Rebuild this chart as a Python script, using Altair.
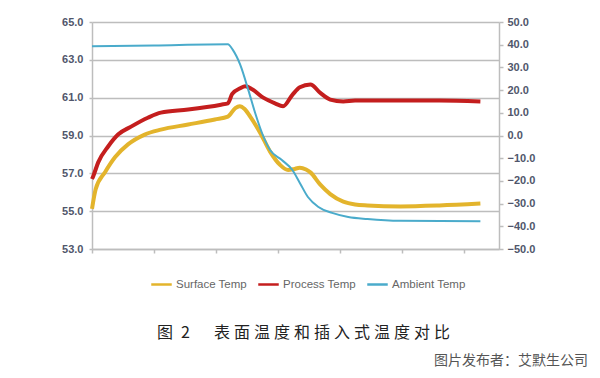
import altair as alt
import pandas as pd

# ---- data (time in arbitrary minutes) ----
series_names = ["Surface Temp", "Process Temp", "Ambient Temp"]
series_colors = ["#E3B42C", "#C41E1E", "#4AABCB"]

surface_t = [0, 6, 21, 37, 58, 85, 111, 155, 198, 219, 231, 238, 246, 255, 271, 287, 303, 316,
             325, 335, 345, 352, 368, 384, 405, 424, 444, 497, 560, 626]
surface_v = [55.12, 56.17, 57.06, 57.85, 58.53, 59.05, 59.31, 59.58, 59.85, 60.0, 60.45, 60.55,
             60.4, 60.0, 59.15, 58.15, 57.45, 57.18, 57.22, 57.3, 57.2, 57.05, 56.4, 55.9, 55.5,
             55.35, 55.3, 55.25, 55.3, 55.4]

process_t = [0, 2, 10, 26, 42, 63, 90, 111, 155, 208, 219, 226, 239, 247, 258, 276, 295, 308,
             323, 335, 352, 368, 384, 405, 424, 444, 497, 560, 626]
process_v = [56.7, 56.85, 57.58, 58.42, 59.05, 59.47, 59.94, 60.21, 60.37, 60.63, 60.7, 61.2,
             61.5, 61.6, 61.45, 61.0, 60.7, 60.55, 61.15, 61.55, 61.7, 61.25, 60.9, 60.8, 60.85,
             60.85, 60.85, 60.85, 60.8]

ambient_t = [0, 100, 219, 227, 239, 252, 263, 274, 287, 306, 323, 335, 348, 365, 387, 413,
             444, 497, 626]
ambient_v = [39.3, 39.7, 40.2, 37.7, 31.1, 20.0, 9.9, 1.1, -6.4, -10.8, -15.2, -20.9, -27.1,
             -31.5, -34.1, -35.9, -36.8, -37.6, -37.8]

left_ticks = [53, 55, 57, 59, 61, 63, 65]
right_ticks = [-50, -40, -30, -20, -10, 0, 10, 20, 30, 40, 50]
x_ticks = [0, 100, 200, 300, 400, 500, 600]

caption_label = "图"
caption_num = "2"
caption_body = "表面温度和插入式温度对比"
credit = "图片发布者：艾默生公司"

rows = []
for name, ts, vs in [("Surface Temp", surface_t, surface_v),
                     ("Process Temp", process_t, process_v),
                     ("Ambient Temp", ambient_t, ambient_v)]:
    for t, v in zip(ts, vs):
        rows.append({"t": t, "v": v, "series": name})
df = pd.DataFrame(rows)

GRID = "#bdbdbd"
LABEL = "#50566b"

x_enc = alt.X("t:Q", scale=alt.Scale(domain=[0, 656], nice=False, zero=False),
              axis=alt.Axis(values=x_ticks, labels=False, title=None, grid=False,
                            domainColor=GRID, domainWidth=1.5, tickColor=GRID,
                            tickWidth=1.5, tickSize=4))

color_enc = alt.Color("series:N",
                      scale=alt.Scale(domain=series_names, range=series_colors),
                      legend=alt.Legend(title=None, orient="none", legendX=58, legendY=251,
                                        direction="horizontal", columns=3,
                                        symbolType="stroke", symbolSize=420,
                                        symbolStrokeWidth=2.5, labelFontSize=11.5,
                                        labelColor="#666666", labelFont="Liberation Sans",
                                        columnPadding=6, labelOffset=3))

left = alt.Chart(df).transform_filter(
    alt.FieldOneOfPredicate(field="series", oneOf=["Surface Temp", "Process Temp"])
).mark_line(strokeWidth=4, interpolate="monotone").encode(
    x=x_enc,
    y=alt.Y("v:Q", scale=alt.Scale(domain=[53, 65], nice=False, zero=False),
            axis=alt.Axis(values=left_ticks, format=".1f", title=None, orient="left",
                          grid=True, gridColor=GRID, gridWidth=1.5,
                          domainColor=GRID, domainWidth=1.5, tickColor=GRID,
                          tickWidth=1.5, tickSize=3, labelPadding=6,
                          labelFont="Liberation Sans", labelFontSize=11,
                          labelFontWeight="bold", labelColor=LABEL)),
    color=color_enc,
)

right = alt.Chart(df).transform_filter(
    alt.FieldEqualPredicate(field="series", equal="Ambient Temp")
).mark_line(strokeWidth=2, interpolate="monotone").encode(
    x=x_enc,
    y=alt.Y("v:Q", scale=alt.Scale(domain=[-50, 50], nice=False, zero=False),
            axis=alt.Axis(values=right_ticks, format=".1f", title=None, orient="right",
                          grid=False, domainColor=GRID, domainWidth=1.5, tickColor=GRID,
                          tickWidth=1.5, tickSize=4, labelPadding=4,
                          labelFont="Liberation Sans", labelFontSize=11,
                          labelFontWeight="bold", labelColor=LABEL)),
    color=color_enc,
)

sp = "\u2005"
cap_text = caption_label + "\u2002" + caption_num + "\u2003\u2002" + sp.join(caption_body)
cap_df = pd.DataFrame({"txt": [cap_text]})
cred_df = pd.DataFrame({"txt": [credit]})

cap = alt.Chart(cap_df).mark_text(
    font="Noto Sans CJK SC", fontSize=16, color="#222222", align="left", baseline="middle"
).encode(text="txt:N", x=alt.value(65), y=alt.value(311))

cred = alt.Chart(cred_df).mark_text(
    font="Noto Sans CJK SC", fontSize=14, color="#555555", align="right", baseline="middle"
).encode(text="txt:N", x=alt.value(496), y=alt.value(339))

chart = alt.layer(left, right, cap, cred).resolve_scale(y="independent").properties(
    width=407, height=227,
    autosize=alt.AutoSizeParams(type="none"),
    padding={"left": 92, "top": 22, "right": 101, "bottom": 129},
    background="white",
).configure_view(stroke=None)

chart.save("out.html", embed_options={"renderer": "svg", "actions": False})
